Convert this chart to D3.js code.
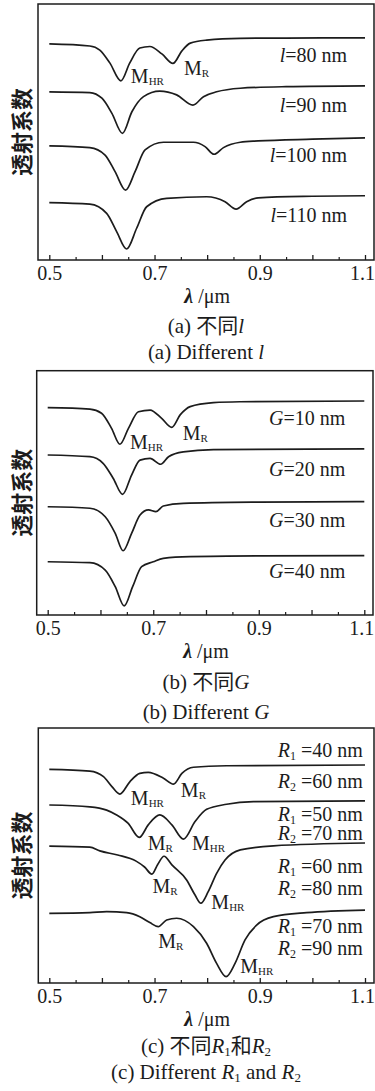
<!DOCTYPE html>
<html>
<head>
<meta charset="utf-8">
<script src="https://cdn.jsdelivr.net/npm/d3@7"></script>
<style>
  body { margin: 0; background: #fff; }
  svg { display: block; }
</style>
</head>
<body>
<svg id="fig" width="375" height="1091"></svg>
<script>
// ---- wavelength axis (µm) ----
const xMajorTicks = [0.5, 0.6, 0.7, 0.8, 0.9, 1.0, 1.1];
const xMinorTicks = [0.55, 0.65, 0.75, 0.85, 0.95, 1.05];
const xTickLabels = [0.5, 0.7, 0.9, 1.1];

// ---- (a) transmission spectra for different l (offset for clarity) ----
const specL80 = [[0.50,0.844],[0.577,0.836],[0.596,0.820],[0.615,0.770],[0.636,0.700],[0.653,0.770],[0.672,0.828],[0.691,0.834],[0.714,0.805],[0.735,0.768],[0.752,0.817],[0.768,0.847],[0.799,0.859],[0.863,0.866],[0.95,0.867],[1.10,0.868]];
const specL90 = [[0.50,0.657],[0.577,0.654],[0.600,0.632],[0.619,0.573],[0.639,0.495],[0.657,0.579],[0.679,0.638],[0.710,0.660],[0.742,0.645],[0.773,0.605],[0.793,0.638],[0.818,0.657],[0.863,0.671],[0.95,0.677],[1.10,0.680]];
const specL100 = [[0.50,0.446],[0.577,0.439],[0.606,0.410],[0.625,0.345],[0.645,0.273],[0.663,0.345],[0.682,0.430],[0.717,0.460],[0.774,0.460],[0.796,0.443],[0.813,0.413],[0.831,0.439],[0.863,0.460],[0.897,0.465],[1.00,0.472],[1.10,0.477]];
const specL110 = [[0.50,0.224],[0.577,0.218],[0.609,0.182],[0.628,0.111],[0.647,0.043],[0.666,0.124],[0.685,0.208],[0.723,0.241],[0.799,0.247],[0.834,0.228],[0.855,0.199],[0.875,0.228],[0.897,0.243],[1.00,0.249],[1.10,0.251]];

// ---- (b) transmission spectra for different G ----
const specG10 = [[0.50,0.849],[0.580,0.843],[0.602,0.826],[0.621,0.764],[0.637,0.699],[0.653,0.764],[0.672,0.832],[0.694,0.839],[0.716,0.805],[0.735,0.768],[0.751,0.819],[0.770,0.853],[0.814,0.869],[0.864,0.873],[1.10,0.876]];
const specG20 = [[0.50,0.655],[0.580,0.648],[0.605,0.621],[0.624,0.560],[0.642,0.494],[0.659,0.573],[0.675,0.634],[0.694,0.641],[0.714,0.617],[0.729,0.648],[0.757,0.668],[0.814,0.677],[1.10,0.680]];
const specG30 = [[0.50,0.443],[0.580,0.437],[0.609,0.402],[0.628,0.334],[0.643,0.263],[0.659,0.334],[0.675,0.409],[0.691,0.430],[0.705,0.423],[0.719,0.446],[0.757,0.457],[0.90,0.462],[1.10,0.464]];
const specG40 = [[0.50,0.218],[0.580,0.214],[0.609,0.184],[0.628,0.116],[0.645,0.037],[0.661,0.116],[0.678,0.198],[0.700,0.218],[0.719,0.232],[0.770,0.239],[0.90,0.242],[1.10,0.243]];

// ---- (c) transmission spectra for different R1 and R2 ----
const specR40 = [[0.50,0.838],[0.577,0.831],[0.603,0.809],[0.619,0.770],[0.634,0.741],[0.653,0.789],[0.672,0.822],[0.688,0.826],[0.717,0.803],[0.736,0.780],[0.752,0.822],[0.774,0.846],[0.837,0.852],[1.10,0.855]];
const specR50 = [[0.50,0.698],[0.577,0.691],[0.609,0.678],[0.628,0.659],[0.650,0.626],[0.671,0.571],[0.688,0.620],[0.710,0.659],[0.733,0.620],[0.755,0.564],[0.777,0.633],[0.799,0.681],[0.837,0.701],[0.888,0.711],[1.10,0.714]];
const specR60 = [[0.50,0.537],[0.577,0.533],[0.596,0.518],[0.630,0.502],[0.665,0.478],[0.681,0.455],[0.695,0.427],[0.706,0.465],[0.718,0.497],[0.733,0.463],[0.761,0.404],[0.777,0.345],[0.788,0.313],[0.802,0.358],[0.818,0.430],[0.834,0.482],[0.863,0.522],[0.926,0.538],[1.10,0.549]];
const specR70 = [[0.50,0.273],[0.577,0.276],[0.609,0.280],[0.647,0.276],[0.672,0.260],[0.691,0.237],[0.707,0.221],[0.723,0.247],[0.742,0.254],[0.774,0.221],[0.799,0.156],[0.818,0.077],[0.836,0.025],[0.853,0.077],[0.872,0.169],[0.894,0.227],[0.926,0.260],[0.989,0.276],[1.10,0.286]];

// ---- text content ----
const yTitle = "透射系数";
const seriesLabelsA = [
  [{t:"l", i:1}, {t:"=80 nm"}],
  [{t:"l", i:1}, {t:"=90 nm"}],
  [{t:"l", i:1}, {t:"=100 nm"}],
  [{t:"l", i:1}, {t:"=110 nm"}]
];
const seriesLabelsB = [
  [{t:"G", i:1}, {t:"=10 nm"}],
  [{t:"G", i:1}, {t:"=20 nm"}],
  [{t:"G", i:1}, {t:"=30 nm"}],
  [{t:"G", i:1}, {t:"=40 nm"}]
];
const seriesLabelsC = [
  [{t:"R", i:1}, {t:"1", sub:1}, {t:" =40 nm"}],
  [{t:"R", i:1}, {t:"2", sub:1}, {t:" =60 nm"}],
  [{t:"R", i:1}, {t:"1", sub:1}, {t:" =50 nm"}],
  [{t:"R", i:1}, {t:"2", sub:1}, {t:" =70 nm"}],
  [{t:"R", i:1}, {t:"1", sub:1}, {t:" =60 nm"}],
  [{t:"R", i:1}, {t:"2", sub:1}, {t:" =80 nm"}],
  [{t:"R", i:1}, {t:"1", sub:1}, {t:" =70 nm"}],
  [{t:"R", i:1}, {t:"2", sub:1}, {t:" =90 nm"}]
];
const modeHR = [{t:"M"}, {t:"HR", sub:1}];
const modeR = [{t:"M"}, {t:"R", sub:1}];
const captionsA = [[{t:"(a) 不同"}, {t:"l", i:1}], [{t:"(a) Different "}, {t:"l", i:1}]];
const captionsB = [[{t:"(b) 不同"}, {t:"G", i:1}], [{t:"(b) Different "}, {t:"G", i:1}]];
const captionsC = [
  [{t:"(c) 不同"}, {t:"R", i:1}, {t:"1", sub:1}, {t:"和"}, {t:"R", i:1}, {t:"2", sub:1}],
  [{t:"(c) Different "}, {t:"R", i:1}, {t:"1", sub:1}, {t:" and "}, {t:"R", i:1}, {t:"2", sub:1}]
];

// ---- layout of the three stacked panels ----
const panels = [
  { left: 38, right: 374, top: 4, bottom: 260, x0: 49.3, x1: 365,
    curves: [specL80, specL90, specL100, specL110],
    labels: seriesLabelsA, labelX: 1.066, labelY: [0.773, 0.578, 0.383, 0.148],
    marks: [{seg: modeHR, at: [0.655, 0.691]}, {seg: modeR, at: [0.756, 0.721]}],
    captions: captionsA, capY: [333, 359] },
  { left: 36.7, right: 373, top: 370.7, bottom: 615, x0: 47.7, x1: 364.3,
    curves: [specG10, specG20, specG30, specG40],
    labels: seriesLabelsB, labelX: 1.064, labelY: [0.778, 0.569, 0.360, 0.151],
    marks: [{seg: modeHR, at: [0.656, 0.679]}, {seg: modeR, at: [0.756, 0.718]}],
    captions: captionsB, capY: [689, 719] },
  { left: 38.3, right: 374, top: 728, bottom: 983, x0: 49.3, x1: 365,
    curves: [specR40, specR50, specR60, specR70],
    labels: seriesLabelsC, labelX: 1.096, labelY: [0.887, 0.765, 0.637, 0.559, 0.431, 0.345, 0.196, 0.110],
    marks: [
      {seg: modeHR, at: [0.655, 0.700]}, {seg: modeR, at: [0.750, 0.729]},
      {seg: modeR, at: [0.687, 0.522]}, {seg: modeHR, at: [0.771, 0.522]},
      {seg: modeR, at: [0.696, 0.353]}, {seg: modeHR, at: [0.808, 0.290]},
      {seg: modeR, at: [0.707, 0.139]}, {seg: modeHR, at: [0.863, 0.039]}
    ],
    captions: captionsC, capY: [1053, 1079] }
];

const INK = "#1c1c1c";
const FONT = "'Liberation Serif','Times New Roman','Noto Sans CJK SC',serif";
const svg = d3.select("#fig");

// text built from styled runs (italic, subscript)
function richText(parent, segs, x, y, o) {
  const t = parent.append("text")
    .attr("x", x).attr("y", y)
    .attr("font-family", FONT)
    .attr("font-size", o.size)
    .attr("text-anchor", o.anchor || "start")
    .attr("fill", INK);
  let shift = 0;
  segs.forEach(s => {
    const sp = t.append("tspan").text(s.t);
    const want = s.sub ? o.subDy : 0;
    if (want !== shift) { sp.attr("dy", want - shift); shift = want; }
    if (s.i) sp.attr("font-style", "italic");
    if (s.sub) sp.attr("font-size", o.subSize);
  });
  return t;
}

panels.forEach(p => {
  const x = d3.scaleLinear().domain([0.5, 1.1]).range([p.x0, p.x1]);
  const y = d3.scaleLinear().domain([0, 1]).range([p.bottom, p.top]);
  const g = svg.append("g");

  // inward ticks along the bottom edge
  const isLabeled = d => xTickLabels.some(v => Math.abs(v - d) < 1e-9);
  g.append("g")
    .attr("transform", `translate(0,${p.bottom})`)
    .call(d3.axisBottom(x).tickValues(xMajorTicks).tickSize(-5).tickPadding(6)
      .tickFormat(d => isLabeled(d) ? d3.format(".1f")(d) : ""))
    .call(a => a.select(".domain").remove())
    .call(a => a.selectAll("line").attr("stroke", INK).attr("stroke-width", 1.3))
    .call(a => a.selectAll("text").attr("fill", INK)
      .attr("font-family", FONT).attr("font-size", 20)
      .attr("dx", d => Math.abs(d - 1.1) < 1e-9 ? -3 : 0))
    .attr("font-family", FONT).attr("font-size", 20);
  g.append("g")
    .attr("transform", `translate(0,${p.bottom})`)
    .call(d3.axisBottom(x).tickValues(xMinorTicks).tickSize(-3).tickFormat(""))
    .call(a => a.select(".domain").remove())
    .call(a => a.selectAll("line").attr("stroke", INK).attr("stroke-width", 1.2));

  // frame
  g.append("rect")
    .attr("x", p.left).attr("y", p.top)
    .attr("width", p.right - p.left).attr("height", p.bottom - p.top)
    .attr("fill", "none").attr("stroke", INK).attr("stroke-width", 1.5);

  // spectra
  const line = d3.line().x(d => x(d[0])).y(d => y(d[1])).curve(d3.curveMonotoneX);
  g.selectAll("path.spec").data(p.curves).join("path")
    .attr("class", "spec")
    .attr("d", line)
    .attr("fill", "none").attr("stroke", INK).attr("stroke-width", 1.7);

  // series labels
  p.labels.forEach((segs, i) =>
    richText(g, segs, x(p.labelX), y(p.labelY[i]), {size: 20, anchor: "end", subSize: 12, subDy: 3}));

  // resonance mode markers
  p.marks.forEach(m =>
    richText(g, m.seg, x(m.at[0]), y(m.at[1]), {size: 20, subSize: 11, subDy: 2}));

  // y title
  g.append("text")
    .attr("transform", `translate(19.5,${(p.top + p.bottom) / 2}) rotate(-90)`)
    .attr("text-anchor", "middle").attr("dominant-baseline", "central")
    .attr("font-family", "'Noto Sans CJK SC',sans-serif").attr("font-weight", 600)
    .attr("font-size", 22).attr("fill", INK)
    .text(yTitle);

  // x title
  const xt = g.append("text")
    .attr("x", (p.x0 + p.x1) / 2).attr("y", p.bottom + 43)
    .attr("text-anchor", "middle").attr("font-family", FONT)
    .attr("font-size", 20).attr("fill", INK);
  xt.append("tspan").attr("font-weight", "bold").attr("font-style", "italic").text("λ");
  xt.append("tspan").text(" /μm");

  // captions
  p.captions.forEach((segs, i) =>
    richText(g, segs, 206, p.capY[i], {size: 21, anchor: "middle", subSize: 13, subDy: 3}));
});
</script>
</body>
</html>
